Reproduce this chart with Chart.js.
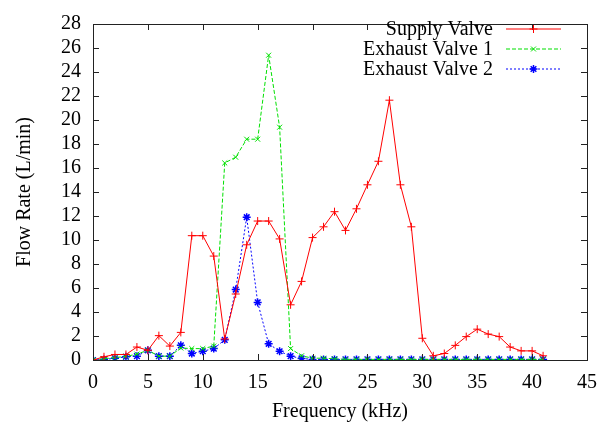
<!DOCTYPE html>
<html>
<head>
<meta charset="utf-8">
<script src="https://cdn.jsdelivr.net/npm/chart.js@4/dist/chart.umd.min.js"></script>
<style>
    html, body { margin: 0; padding: 0; background: #fff; }
    #wrap { width: 613px; height: 428px; }
</style>
</head>
<body>
<div id="wrap"><canvas id="flowChart" width="613" height="428"></canvas></div>
<script>
const frequencies = [0, 1, 2, 3, 4, 5, 6, 7, 8, 9, 10, 11, 12, 13, 14, 15, 16, 17, 18, 19, 20,
    21, 22, 23, 24, 25, 26, 27, 28, 29, 30, 31, 32, 33, 34, 35, 36, 37, 38, 39, 40, 41];

const supplyValve = [0, 0.27, 0.46, 0.46, 1.08, 0.81, 2.03, 1.16, 2.3, 10.36, 10.36,
    8.66, 1.75, 5.5, 9.6, 11.58, 11.58, 10.09, 4.6, 6.55, 10.2,
    11.1, 12.36, 10.8, 12.6, 14.6, 16.56, 21.65, 14.6, 11.1, 1.81,
    0.35, 0.54, 1.22, 1.95, 2.57, 2.16, 1.95, 1.08, 0.76, 0.76, 0.35];

const exhaustValve1 = [0, 0.1, 0.2, 0.3, 0.49, 0.81, 0.32, 0.32, 1.0, 0.95, 0.95,
    1.16, 16.42, 16.9, 18.4, 18.4, 25.4, 19.4, 0.95, 0.35, 0.15,
    0.15, 0.1, 0.05, 0.05, 0.05, 0.05, 0.05, 0.05, 0.05, 0.05,
    0.05, 0.05, 0.05, 0.05, 0.05, 0.05, 0.05, 0.05, 0.05, 0.05, 0.05];

const exhaustValve2 = [0, 0.05, 0.14, 0.27, 0.32, 0.81, 0.32, 0.32, 1.22, 0.54, 0.73,
    0.95, 1.68, 5.87, 11.9, 4.8, 1.35, 0.73, 0.32, 0.13, 0.05,
    0.05, 0.05, 0.05, 0.05, 0.05, 0.05, 0.05, 0.05, 0.05, 0.05,
    0.05, 0.05, 0.05, 0.05, 0.05, 0.05, 0.05, 0.05, 0.05, 0.05, 0.05];

const seriesLabels = ['Supply Valve', 'Exhaust Valve 1', 'Exhaust Valve 2'];
const seriesColors = ['#ff0000', '#00e000', '#0000ff'];

const xTicks = [0, 5, 10, 15, 20, 25, 30, 35, 40, 45];
const yTicks = [0, 2, 4, 6, 8, 10, 12, 14, 16, 18, 20, 22, 24, 26, 28];

const FONT = "'Liberation Serif', 'Times New Roman', serif";

function toPoints(values) {
    return values.map((v, i) => ({ x: frequencies[i], y: v }));
}

// gnuplot style: box with inward ticks on all four sides
const boxTicks = {
    id: 'boxTicks',
    afterDraw(chart) {
        const { ctx, chartArea: a, scales } = chart;
        const len = 6;
        ctx.save();
        ctx.strokeStyle = '#222';
        ctx.lineWidth = 1;
        ctx.beginPath();
        xTicks.forEach(v => {
            const px = Math.round(scales.x.getPixelForValue(v)) + 0.5;
            ctx.moveTo(px, a.bottom); ctx.lineTo(px, a.bottom - len);
            ctx.moveTo(px, a.top); ctx.lineTo(px, a.top + len);
        });
        yTicks.forEach(v => {
            const py = Math.round(scales.y.getPixelForValue(v)) + 0.5;
            ctx.moveTo(a.left, py); ctx.lineTo(a.left + len, py);
            ctx.moveTo(a.right, py); ctx.lineTo(a.right - len, py);
        });
        ctx.stroke();
        ctx.strokeRect(Math.round(a.left) + 0.5, Math.round(a.top) + 0.5,
            Math.round(a.right - a.left), Math.round(a.bottom - a.top));
        ctx.restore();
    }
};

// legend: text right-aligned, sample line to the right of it
const sideLegend = {
    id: 'sideLegend',
    afterDraw(chart) {
        const { ctx } = chart;
        const textRight = 493;
        const lineStart = 506, lineEnd = 561;
        chart.data.datasets.forEach((ds, i) => {
            const y = 29 + i * 20;
            const color = seriesColors[i];
            ctx.save();
            ctx.font = '20px ' + FONT;
            ctx.textAlign = 'right';
            ctx.textBaseline = 'middle';
            ctx.fillStyle = '#000';
            ctx.fillText(seriesLabels[i], textRight, y + 1);
            ctx.restore();

            // sample line sits between pixel rows, like gnuplot's antialiased key
            ctx.save();
            ctx.strokeStyle = color;
            ctx.fillStyle = color;
            ctx.lineWidth = 1.2;
            ctx.setLineDash(ds.borderDash || []);
            ctx.beginPath();
            ctx.moveTo(lineStart, y);
            ctx.lineTo(lineEnd, y);
            ctx.stroke();
            ctx.setLineDash([]);
            ctx.lineWidth = ds.pointBorderWidth;
            Chart.helpers.drawPoint(ctx, {
                pointStyle: ds.pointStyle,
                radius: ds.pointRadius,
                rotation: 0,
                borderWidth: ds.pointBorderWidth
            }, (lineStart + lineEnd) / 2, y);
            ctx.restore();
        });
    }
};

const ctx = document.getElementById('flowChart').getContext('2d');
new Chart(ctx, {
    type: 'line',
    data: {
        datasets: [{
            label: seriesLabels[0],
            data: toPoints(supplyValve),
            borderColor: seriesColors[0],
            backgroundColor: seriesColors[0],
            borderWidth: 1,
            pointStyle: 'cross',
            pointRadius: 4,
            pointBorderWidth: 1
        }, {
            label: seriesLabels[1],
            data: toPoints(exhaustValve1),
            borderColor: seriesColors[1],
            backgroundColor: seriesColors[1],
            borderWidth: 1,
            borderDash: [4, 2],
            pointStyle: 'crossRot',
            pointRadius: 3.5,
            pointBorderWidth: 1
        }, {
            label: seriesLabels[2],
            data: toPoints(exhaustValve2),
            borderColor: seriesColors[2],
            backgroundColor: seriesColors[2],
            borderWidth: 1,
            borderDash: [2, 2],
            pointStyle: 'star',
            pointRadius: 4,
            pointBorderWidth: 1.5
        }]
    },
    options: {
        responsive: false,
        animation: false,
        layout: { padding: { top: 15, right: 26, left: 0, bottom: 0 } },
        plugins: {
            legend: { display: false },
            tooltip: { enabled: false }
        },
        elements: { line: { tension: 0 } },
        scales: {
            x: {
                type: 'linear',
                min: 0,
                max: 45,
                afterFit: (scale) => { scale.height = 68; },
                afterBuildTicks: (scale) => { scale.ticks = xTicks.map(v => ({ value: v })); },
                grid: { display: false, drawTicks: false },
                border: { display: false },
                ticks: { color: '#000', padding: 11, autoSkip: false, maxRotation: 0, font: { family: FONT, size: 20 } },
                title: {
                    display: true,
                    text: 'Frequency (kHz)',
                    color: '#000',
                    font: { family: FONT, size: 20 },
                    padding: { top: 0, bottom: 4 }
                }
            },
            y: {
                min: 0,
                max: 28,
                afterFit: (scale) => { scale.width = 93; },
                afterBuildTicks: (scale) => { scale.ticks = yTicks.map(v => ({ value: v })); },
                grid: { display: false, drawTicks: false },
                border: { display: false },
                ticks: { color: '#000', padding: 12, autoSkip: false, font: { family: FONT, size: 20 } },
                title: {
                    display: true,
                    text: 'Flow Rate (L/min)',
                    color: '#000',
                    font: { family: FONT, size: 20 },
                    padding: { top: 13, bottom: 0 }
                }
            }
        }
    },
    plugins: [boxTicks, sideLegend]
});
</script>
</body>
</html>
